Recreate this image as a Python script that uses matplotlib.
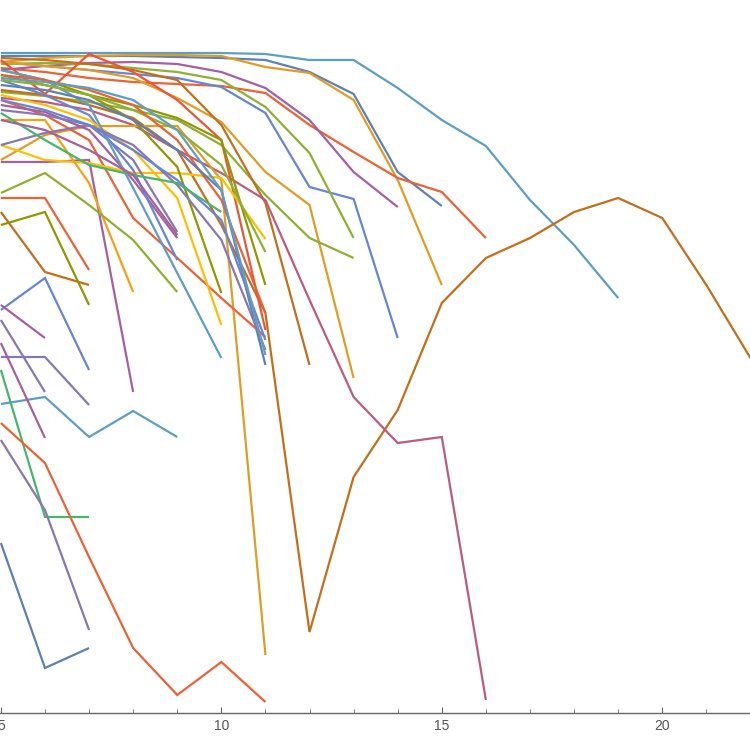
import matplotlib
matplotlib.use("Agg")
import matplotlib.pyplot as plt
from matplotlib.ticker import MultipleLocator, FixedLocator

# Mathematica default palette (ColorData 97)
B1, O2, G3, R4, P5, BR6, LB7, Y8, M9, OL10, R11, B12, O13, PK14, GR15 = (
    "#5E81B5", "#E19C24", "#8FB032", "#EB6235", "#8778B3", "#C56E1A", "#5D9EC7",
    "#FFBF00", "#A5609D", "#929600", "#E95536", "#6685D9", "#F89F13", "#BC5B80", "#47B66D")

# each series: colour, first x, values at consecutive integer x
s01 = [660, 660, 660, 660, 660, 660, 659, 653, 653, 625, 593, 567, 513, 468, 415]
s02 = [657, 657, 657, 657, 656, 655, 653, 641, 619, 541, 507]
s03 = [651, 655, 657, 658, 658, 657, 646, 640, 613, 533, 428]
s04 = [645, 641, 635, 631, 629, 627, 620, 588, 561, 535, 521, 475]
s05 = [643, 647, 650, 651, 649, 641, 625, 593, 541, 506]
s06 = [651, 647, 643, 639, 635, 626, 600, 526, 514, 375]
s07 = [649, 650, 649, 645, 641, 633, 606, 560, 475]
s08 = [651, 647, 643, 635, 615, 591, 541, 508, 335]
s09 = [621, 617, 611, 603, 593, 568, 518, 475, 455]
s10 = [623, 618, 608, 595, 563, 488, 400, 81, 236, 303, 410, 455, 475, 501, 515, 495, 428, 355]
s11 = [655, 653, 649, 643, 633, 588, 510, 348]
s12 = [615, 611, 603, 588, 563, 540, 513, 413, 316, 270, 276, 13]
s13 = [553, 578, 587, 587, 587, 533, 58]
s14 = [653, 619, 659, 641, 613, 573, 383]
s15 = [613, 598, 573, 495, 455, 415, 376]
s16 = [551, 551, 553, 321]
s17 = [568, 553, 550, 540, 540, 535, 474]
s18 = [593, 593, 530, 421]
s19 = [568, 580, 588, 553, 481]
s20 = [608, 601, 583, 533, 475]
s21 = [633, 618, 598, 543, 453]
s22 = [520, 540, 508, 473, 421]
s23 = [309, 316, 276, 302, 276]
s24 = [515, 515, 443]
s25 = [501, 441, 428]
s26 = [488, 501, 408]
s27 = [403, 435, 343]
s28 = [356, 356, 308]
s29 = [343, 196, 196]
s30 = [273, 203, 83]
s31 = [170, 45, 65]
s32 = [290, 250, 156, 65, 18, 51, 11]
s33 = [408, 375]
s34 = [393, 321]
s35 = [370, 275]
s36 = [618, 608, 593, 563, 515, 388]
s37 = [643, 633, 618, 593, 546, 420]
s38 = [638, 628, 618, 608, 595, 573, 428]
s39 = [643, 633, 608, 525, 440, 355]
s40 = [633, 628, 618, 603, 583, 548, 461]
s41 = [638, 633, 623, 608, 573, 513, 400]
s42 = [628, 623, 613, 593, 563, 523, 348]
s43 = [603, 598, 588, 568, 528, 473, 363]
s44 = [613, 603, 588, 563, 533, 493, 373]
s45 = [635, 631, 625, 613, 583, 523, 358]
s46 = [600, 573, 548, 538, 530, 501]
s47 = [593, 583, 563, 538, 478]

series = [
    (LB7, 5, s01), (B1, 5, s02), (O2, 5, s03), (R4, 5, s04), (M9, 5, s05),
    (B12, 5, s06), (G3, 5, s07), (O2, 5, s08), (G3, 5, s09), (BR6, 5, s10),
    (BR6, 5, s11), (PK14, 5, s12), (O2, 5, s13), (R11, 5, s14), (R4, 5, s15),
    (M9, 5, s16), (Y8, 5, s17), (O13, 5, s18), (P5, 5, s19), (M9, 5, s20),
    (B12, 5, s21), (G3, 5, s22), (LB7, 5, s23), (R4, 5, s24), (BR6, 5, s25),
    (OL10, 5, s26), (B12, 5, s27), (P5, 5, s28), (GR15, 5, s29), (P5, 5, s30),
    (B1, 5, s31), (R4, 5, s32), (M9, 5, s33), (P5, 5, s34), (M9, 5, s35),
    (Y8, 5, s36), (OL10, 5, s37), (OL10, 5, s38), (LB7, 5, s39), (G3, 5, s40),
    (R4, 5, s41), (B1, 5, s42), (P5, 5, s43), (B12, 5, s44), (LB7, 5, s45),
    (GR15, 5, s46), (M9, 5, s47),
]

xticks_major = [5, 10, 15, 20]
xtick_labels = ["5", "10", "15", "20"]

fig = plt.figure(figsize=(7.5, 7.5), dpi=100)
ax = fig.add_axes([0, 37 / 750, 1, 713 / 750])
for color, x0, vals in series:
    xs = list(range(x0, x0 + len(vals)))
    ax.plot(xs, vals, color=color, lw=1.6, solid_joinstyle="miter", solid_capstyle="butt")

ax.set_xlim(4.98, 21.99)
ax.set_ylim(0, 713)
for sp in ("left", "right", "top"):
    ax.spines[sp].set_visible(False)
ax.spines["bottom"].set_color("#666666")
ax.spines["bottom"].set_linewidth(1.0)
ax.set_yticks([])
ax.xaxis.set_major_locator(FixedLocator(xticks_major))
ax.set_xticklabels(xtick_labels, family=["Liberation Sans Narrow", "Liberation Sans", "DejaVu Sans"])
ax.xaxis.set_minor_locator(MultipleLocator(1))
ax.tick_params(axis="x", which="major", direction="in", length=4.3, width=0.8,
               color="#666666", labelcolor="#555555", labelsize=10, pad=4.5)
ax.tick_params(axis="x", which="minor", direction="in", length=2.6, width=0.6, color="#666666")
fig.savefig("out.png", dpi=100)
